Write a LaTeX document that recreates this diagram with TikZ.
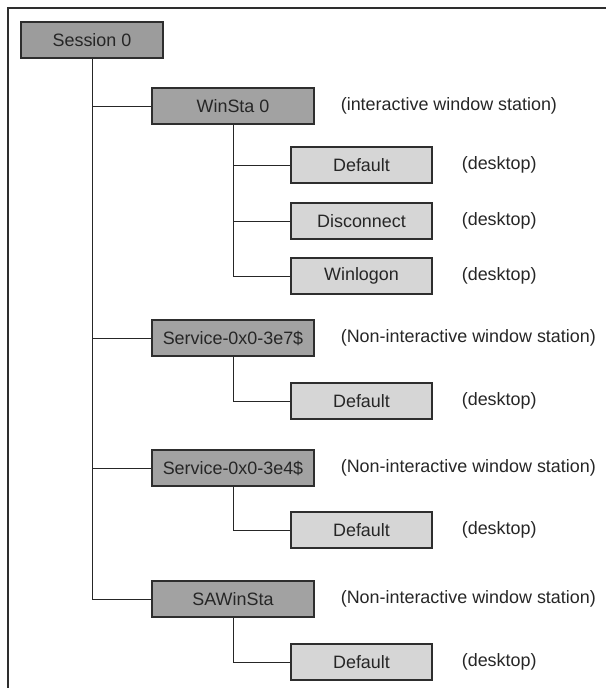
\documentclass[tikz,border=0pt]{standalone}
\usepackage{fontspec}
\setmainfont{Liberation Sans}
\usetikzlibrary{positioning}

\definecolor{stationgray}{HTML}{A2A2A2}
\definecolor{sessiongray}{HTML}{9C9C9C}
\definecolor{desktopgray}{HTML}{D6D6D6}
\definecolor{edgegray}{HTML}{2E2E2E}

\begin{document}
\begin{tikzpicture}[
    font=\fontsize{10.2}{12}\selectfont,
    session/.style={rectangle, draw=edgegray, line width=0.7pt, minimum width=2.84cm, minimum height=0.72cm, fill=sessiongray, text=black!85},
    station/.style={rectangle, draw=edgegray, line width=0.7pt, minimum width=3.24cm, minimum height=0.72cm, fill=stationgray, text=black!85},
    desk/.style={rectangle, draw=edgegray, line width=0.7pt, minimum width=2.82cm, minimum height=0.72cm, fill=desktopgray, text=black!85},
    note/.style={text=black!85},
    link/.style={draw=black!85, line width=0.55pt}
]
\useasboundingbox (0,0) rectangle (12.12,-13.76);

% Frame (cut off at right and bottom)
\draw[edgegray, line width=0.9pt] (0.16,-13.76) -- (0.16,-0.16) -- (12.12,-0.16);

% Session
\node[session] (s0) at (1.84,-0.80) {Session 0};

% Window stations
\node[station] (ws0) at (4.66,-2.12) {WinSta 0};
\node[station] (sv7) at (4.66,-6.76) {Service-0x0-3e7\$};
\node[station] (sv4) at (4.66,-9.36) {Service-0x0-3e4\$};
\node[station] (sa)  at (4.66,-11.98) {SAWinSta};

\node[note, right=0.40cm of ws0] (ws0n) {(interactive window station)};
\node[note, right=0.40cm of sv7] (sv7n) {(Non-interactive window station)};
\node[note, right=0.40cm of sv4] (sv4n) {(Non-interactive window station)};
\node[note, right=0.40cm of sa]  (san)  {(Non-interactive window station)};

% Desktops
\node[desk] (dft)  at (7.23,-3.30) {Default};
\node[desk] (dsc)  at (7.23,-4.42) {Disconnect};
\node[desk] (wlg)  at (7.23,-5.52) {Winlogon};
\node[desk] (dft7) at (7.23,-8.02) {Default};
\node[desk] (dft4) at (7.23,-10.60) {Default};
\node[desk] (dfts) at (7.23,-13.24) {Default};

\foreach \d in {dft,dsc,wlg,dft7,dft4,dfts}
    \node[note, right=0.46cm of \d] (\d n) {(desktop)};

% Tree lines
\draw[link] (s0.south) |- (sa.west);
\foreach \w in {ws0,sv7,sv4}
    \draw[link] (s0.south |- \w.west) -- (\w.west);

\draw[link] (ws0.south) |- (wlg.west);
\draw[link] (ws0.south |- dft.west) -- (dft.west);
\draw[link] (ws0.south |- dsc.west) -- (dsc.west);

\draw[link] (sv7.south) |- (dft7.west);
\draw[link] (sv4.south) |- (dft4.west);
\draw[link] (sa.south) |- (dfts.west);

\end{tikzpicture}
\end{document}
